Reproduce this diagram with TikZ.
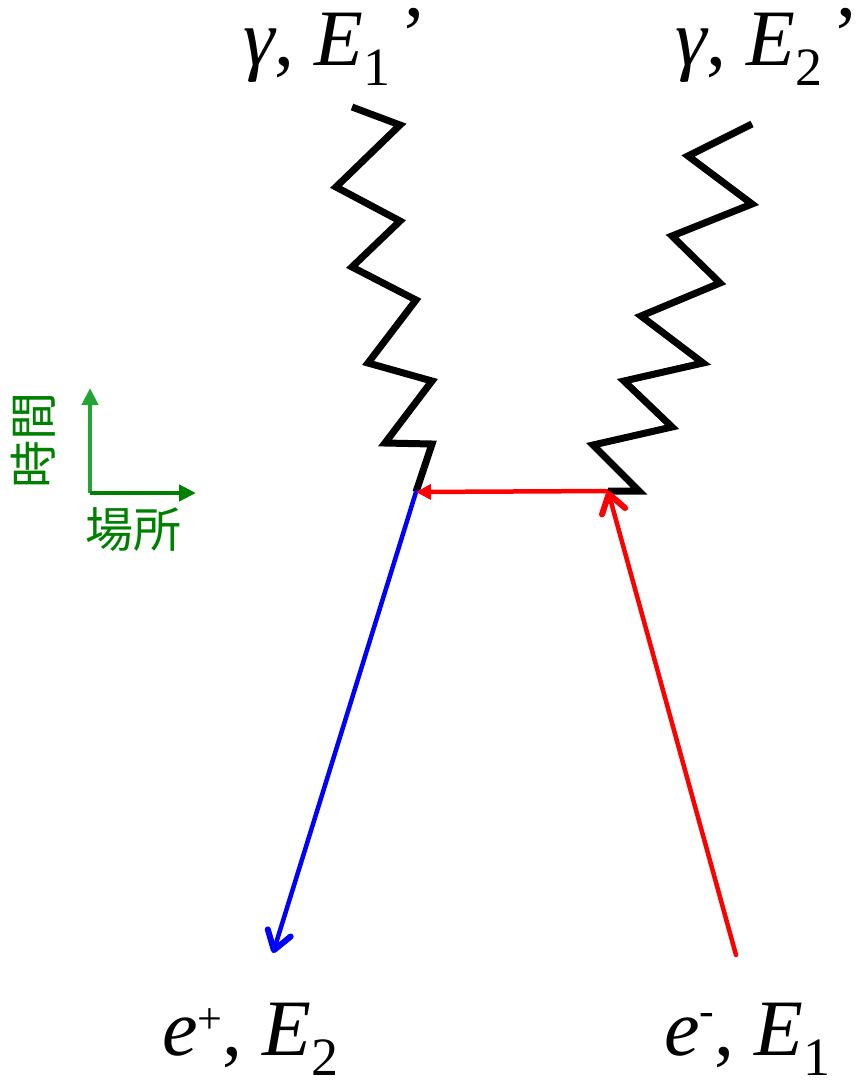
\documentclass[tikz,border=0pt]{standalone}
\usepackage{fontspec}
\setmainfont{Liberation Serif}[ItalicFont={Liberation Serif Italic}]
\newfontfamily\jpfont{Noto Sans CJK JP}
\usetikzlibrary{arrows.meta}
\definecolor{axisgreen}{RGB}{0,128,0}
\definecolor{timegreen}{RGB}{34,165,51}
\newcommand{\lowidx}[1]{\raisebox{-20pt}{\fontsize{54}{54}\selectfont #1}}
\newcommand{\highidx}[2]{\raisebox{#1}{\fontsize{44}{44}\selectfont #2}}

\begin{document}
\begin{tikzpicture}[x=1pt, y=-1pt, >=Stealth,
    photon/.style={line width=7pt, line join=miter},
    lepton/.style={line width=4.5pt, line cap=round,
      -{Straight Barb[length=18pt, width=24pt, line width=6pt 0, round]}},
    lbl/.style={anchor=base west, inner sep=0pt, font=\fontsize{80}{80}\selectfont}]
  \useasboundingbox (0,0) rectangle (858,1082);

  % vertices of the pair annihilation
  \coordinate (vl) at (416,492);
  \coordinate (vr) at (608,491);
  \coordinate (pin) at (273,953);
  \coordinate (ein) at (736,955);

  % photons (zigzag lines)
  \draw[photon] (352,107) -- (400,125) -- (336,187) -- (400,221) -- (352,267)
    -- (416,300) -- (368,363) -- (432,381) -- (385,443) -- (432,444) -- (vl);
  \draw[photon] (752,124) -- (688,156) -- (752,204) -- (672,236) -- (720,283)
    -- (641,316) -- (703,363) -- (624,381) -- (672,427) -- (593,445)
    -- (639,491) -- (vr);

  % electron in, positron out, exchanged electron
  \draw[lepton, red] (ein) -- (vr);
  \draw[lepton, blue] (vl) -- (pin);
  \draw[red, line width=4.5pt, -{Triangle[length=15pt, width=15pt]}] (vr) -- (vl);

  % axes: time and place
  \coordinate (ax0) at (90,493);
  \coordinate (axt) at (90,388);
  \coordinate (axx) at (196,493);
  \draw[timegreen, line width=4.5pt, -{Triangle[length=17pt, width=16pt]}] (ax0) -- (axt);
  \draw[axisgreen, line width=4.5pt, -{Triangle[length=17pt, width=16pt]}] (ax0) -- (axx);
  \node[rotate=90, text=axisgreen, font=\jpfont\fontsize{48}{48}\selectfont] (tlab) at (33,440) {時間};
  \node[text=axisgreen, font=\jpfont\fontsize{48}{48}\selectfont] (xlab) at (133,530) {場所};

  % labels
  \node[lbl] (g1) at (243,65) {\textit{γ}, \textit{E}\lowidx{1}\hspace{10pt}\raisebox{4pt}{’}};
  \node[lbl] (g2) at (675,65) {\textit{γ}, \textit{E}\lowidx{2}\hspace{10pt}\raisebox{4pt}{’}};
  \node[lbl] (ep) at (162,1055) {\textit{e}\highidx{22pt}{+}, \textit{E}\lowidx{2}};
  \node[lbl] (em) at (664,1055) {\textit{e}\highidx{30pt}{-}, \textit{E}\lowidx{1}};
\end{tikzpicture}
\end{document}
